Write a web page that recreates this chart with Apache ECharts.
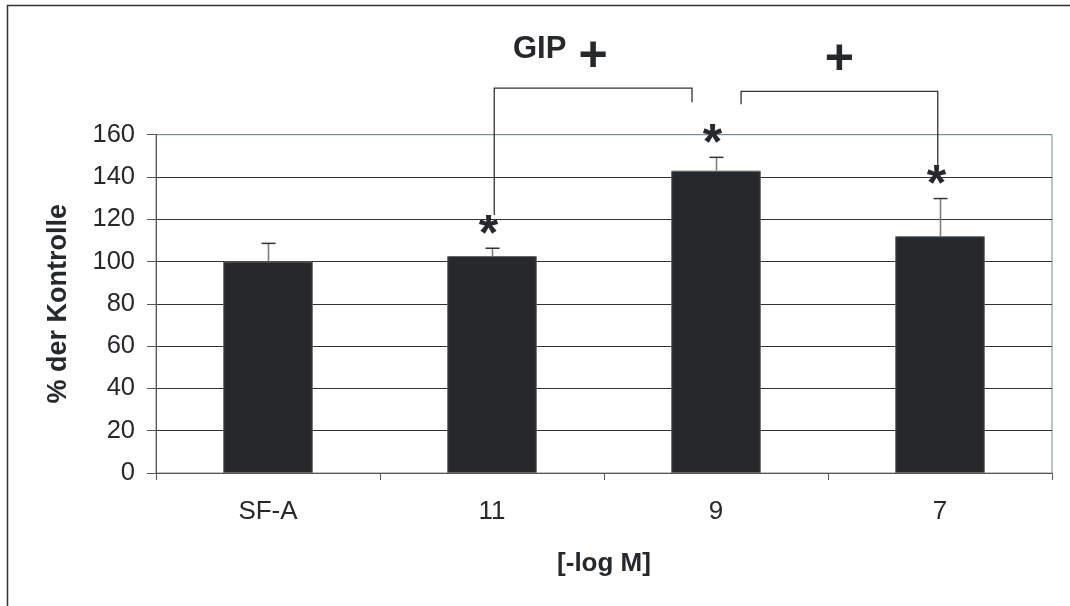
<!DOCTYPE html>
<html>
<head>
<meta charset="utf-8">
<script src="https://cdn.jsdelivr.net/npm/echarts@6/dist/echarts.min.js"></script>
<style>
  html, body { margin: 0; padding: 0; background: #fff; }
  #chart { width: 1070px; height: 606px; }
</style>
</head>
<body>
<div id="chart"></div>
<script>
// Concentrations on the x axis ([-log M]) and the response in % of control
const categories = ['SF-A', '11', '9', '7'];
const means = [100, 102.6, 143, 112];
const sd = [8.6, 3.7, 6.3, 17.8];
const significant = [false, true, true, true];
const yTicks = [0, 20, 40, 60, 80, 100, 120, 140, 160];

// Comparison brackets (category index, value at top, leg ends)
const brackets = [
  { from: 1, to: 2, top: 182, fromEnd: 122, toEnd: 175.3, fromShift: 0.01, toShift: -0.107 },
  { from: 2, to: 3, top: 180.5, fromEnd: 174.4, toEnd: 144, fromShift: 0.112, toShift: -0.01 }
];

const FONT = "'Liberation Sans', Arial, sans-serif";
const INK = '#25292c';

const chart = echarts.init(document.getElementById('chart'), null, { renderer: 'canvas' });

const errorData = means.map((m, i) => [i, m, m + sd[i], significant[i] ? 1 : 0]);
const bracketData = brackets.map(b => [b.from, b.to, b.top, b.fromEnd, b.toEnd, b.fromShift, b.toShift]);

chart.setOption({
  animation: false,
  backgroundColor: '#fff',
  grid: {
    left: 156, right: 18, top: 134.7, bottom: 133,
    show: true, borderColor: '#7b8b92', borderWidth: 1, backgroundColor: 'transparent'
  },
  graphic: [
    {
      type: 'rect', silent: true, z: -1,
      shape: { x: 7.5, y: 5.5, width: 1200, height: 800 },
      style: { fill: 'none', stroke: '#333', lineWidth: 1.5 }
    },
    {
      type: 'text', left: 513, top: 34,
      style: { text: 'GIP', font: "bold 31px " + FONT, fill: INK }
    }
  ],
  xAxis: {
    type: 'category',
    data: categories,
    name: '[-log M]',
    nameLocation: 'middle',
    nameGap: 78,
    nameTextStyle: { fontFamily: FONT, fontWeight: 'bold', fontSize: 26, color: INK },
    axisLine: { lineStyle: { color: '#555', width: 1 } },
    axisTick: { show: true, length: 7, lineStyle: { color: '#555' } },
    axisLabel: { fontFamily: FONT, fontSize: 26, color: INK, margin: 26 },
    splitLine: { show: false }
  },
  yAxis: {
    type: 'value',
    min: 0, max: 160, interval: 20,
    name: '% der Kontrolle',
    nameLocation: 'middle',
    nameGap: 84,
    nameTextStyle: { fontFamily: FONT, fontWeight: 'bold', fontSize: 27, color: INK },
    axisLine: { show: true, lineStyle: { color: '#555', width: 1 } },
    axisTick: { show: true, length: 9, lineStyle: { color: '#555' } },
    axisLabel: {
      fontFamily: FONT, fontSize: 25.5, color: INK, margin: 21,
      formatter: v => yTicks.includes(v) ? String(v) : ''
    },
    splitLine: {
      show: true,
      lineStyle: { color: ['#333', '#333', '#333', '#333', '#333', '#333', '#333', '#333', '#7b8b92'], width: 1 }
    }
  },
  series: [
    {
      type: 'bar',
      data: means,
      barWidth: '40%',
      itemStyle: { color: INK, borderColor: '#666', borderWidth: 1 },
      z: 2
    },
    {
      // upper error bars with significance stars
      type: 'custom',
      data: errorData,
      z: 3,
      clip: false,
      renderItem: (params, api) => {
        const base = api.coord([api.value(0), api.value(1)]);
        const top = api.coord([api.value(0), api.value(2)]);
        const x = Math.round(base[0]) + 0.5;
        const children = [
          { type: 'line', shape: { x1: x, y1: base[1], x2: x, y2: top[1] },
            style: { stroke: '#777', lineWidth: 1.5 } },
          { type: 'line', shape: { x1: x - 7, y1: top[1], x2: x + 7, y2: top[1] },
            style: { stroke: '#333', lineWidth: 1.5 } }
        ];
        if (api.value(3)) {
          children.push({
            type: 'text', x: x - 4, y: top[1] - 12,
            style: { text: '*', font: 'bold 50px ' + FONT, fill: INK,
                     align: 'center', verticalAlign: 'middle' }
          });
        }
        return { type: 'group', children };
      }
    },
    {
      // comparison brackets with "+" markers
      type: 'custom',
      data: bracketData,
      z: 3,
      clip: false,
      renderItem: (params, api) => {
        const band = api.size([1, 0])[0];
        const a = api.coord([api.value(0), api.value(2)]);
        const b = api.coord([api.value(1), api.value(2)]);
        const xa = a[0] + api.value(5) * band;
        const xb = b[0] + api.value(6) * band;
        const yTop = a[1];
        const yA = api.coord([api.value(0), api.value(3)])[1];
        const yB = api.coord([api.value(1), api.value(4)])[1];
        const pts = [[xa, yA], [xa, yTop], [xb, yTop], [xb, yB]];
        return {
          type: 'group',
          children: [
            { type: 'polyline', shape: { points: pts },
              style: { stroke: '#333', lineWidth: 1.3, fill: 'none' } },
            { type: 'text', x: (xa + xb) / 2, y: yTop - 31,
              style: { text: '+', font: 'bold 50px ' + FONT, fill: INK,
                       align: 'center', verticalAlign: 'middle' } }
          ]
        };
      }
    }
  ]
});
</script>
</body>
</html>
